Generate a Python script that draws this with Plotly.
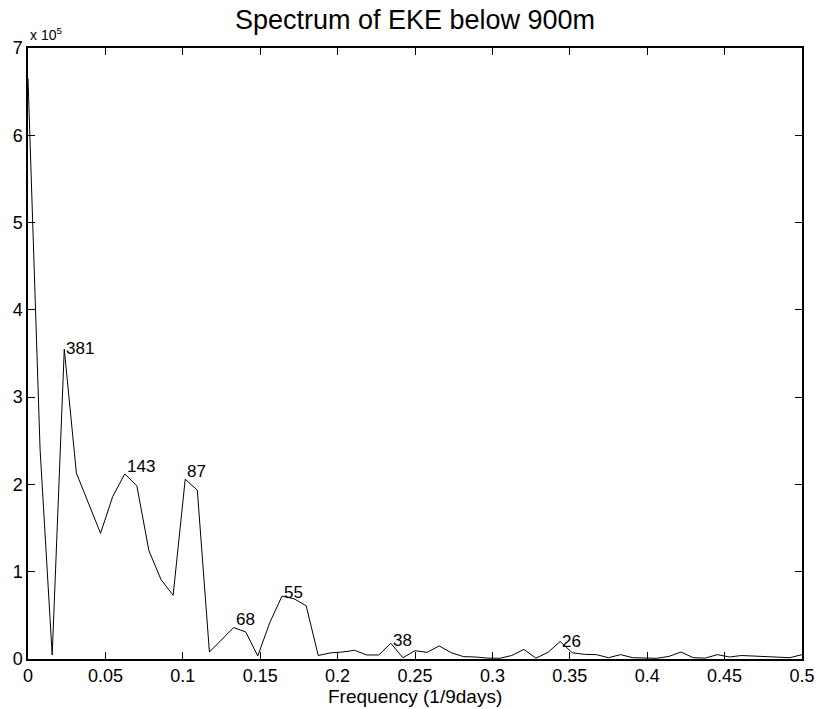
import plotly.graph_objects as go

# Power spectrum of eddy kinetic energy below 900 m (65 frequency bins, 1/128 spacing)
n_fft = 128
power = [
    665000, 240000, 4500, 355000, 213000, 179000, 144000, 186000, 212000, 198500,
    124000, 91000, 73000, 206000, 193500, 8000, 22000, 36000, 31000, 3500,
    42000, 72000, 69000, 61000, 4000, 7000, 8000, 10000, 4600, 4600,
    18000, 1500, 9500, 7600, 15000, 7200, 2700, 2300, 1000, 800,
    4000, 11000, 1000, 7600, 20000, 7200, 5300, 5000, 1500, 5000,
    1500, 800, 800, 3000, 8000, 1500, 1000, 5000, 2300, 4000,
    3500, 2700, 2000, 1500, 5000,
]
freq = [k / n_fft for k in range(len(power))]

# Spectral peaks annotated with their period in days
peak_bins = [3, 8, 13, 17, 21, 30, 44]
peak_periods = ["381", "143", "87", "68", "55", "38", "26"]
peak_yshift = [1, 7, 8, 8, 4, 3, 0]

x_ticks = [0, 0.05, 0.1, 0.15, 0.2, 0.25, 0.3, 0.35, 0.4, 0.45, 0.5]
x_ticktext = ["0", "0.05", "0.1", "0.15", "0.2", "0.25", "0.3", "0.35", "0.4", "0.45", "0.5"]
y_ticks = [0, 1e5, 2e5, 3e5, 4e5, 5e5, 6e5, 7e5]
y_ticktext = ["0", "1", "2", "3", "4", "5", "6", "7"]

FONT = "Liberation Sans, Arial, Helvetica, sans-serif"

fig = go.Figure()
fig.add_trace(go.Scatter(
    x=freq, y=power, mode="lines",
    line=dict(color="black", width=1),
    hoverinfo="x+y", showlegend=False,
))

annotations = []
for b, txt, ys in zip(peak_bins, peak_periods, peak_yshift):
    annotations.append(dict(
        x=freq[b], y=power[b], xref="x", yref="y", text=txt,
        showarrow=False, xanchor="left", yanchor="middle",
        yshift=ys, xshift=0,
        font=dict(family=FONT, size=17, color="black"),
    ))

# Exponent multiplier above the y axis
annotations.append(dict(
    x=0, y=1, xref="paper", yref="paper", text="x 10<sup>5</sup>",
    showarrow=False, xanchor="left", yanchor="bottom", yshift=3, xshift=0,
    font=dict(family=FONT, size=14, color="black"),
))
# x-axis label
annotations.append(dict(
    x=0.5, y=0, xref="paper", yref="paper", text="Frequency (1/9days)",
    showarrow=False, xanchor="center", yanchor="middle", yshift=-37,
    font=dict(family=FONT, size=19, color="black"),
))

axis_common = dict(
    showgrid=False, zeroline=False, showline=True, linecolor="black", linewidth=1.5,
    mirror="allticks", ticks="inside", ticklen=7, tickwidth=1, tickcolor="black",
    tickfont=dict(family=FONT, size=18, color="black"), automargin=False,
)

fig.update_layout(
    width=816, height=709,
    margin=dict(l=28, r=14, t=48, b=50),
    paper_bgcolor="white", plot_bgcolor="white",
    title=dict(
        text="Spectrum of EKE below 900m",
        x=0.5, xref="paper", y=1 - 20 / 709, yref="container",
        xanchor="center", yanchor="middle",
        font=dict(family=FONT, size=27, color="black"),
    ),
    xaxis=dict(range=[0, 0.5], tickvals=x_ticks, ticktext=x_ticktext, **axis_common),
    yaxis=dict(range=[0, 7e5], tickvals=y_ticks, ticktext=y_ticktext, **axis_common),
    annotations=annotations,
)

fig.write_html("out.html")
